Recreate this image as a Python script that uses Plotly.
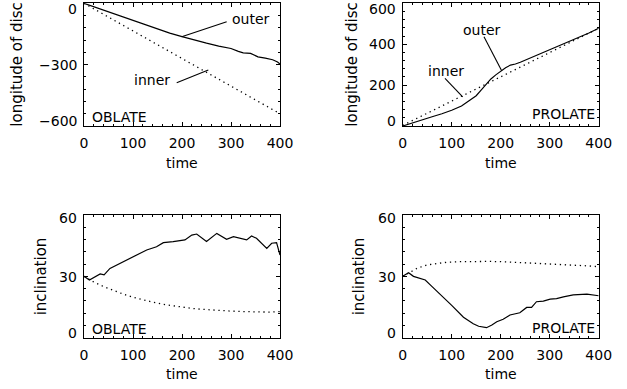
import plotly.graph_objects as go

# ---------------- data ----------------
x_ticks = [0, 100, 200, 300, 400]

# top-left : longitude of disc, OBLATE
t_obl_long_outer = [0, 25, 50, 75, 100, 125, 150, 175, 200, 225, 250, 275, 300, 315, 325, 340, 355, 370, 385, 395, 400]
v_obl_long_outer = [0, -21, -42, -63, -84, -104, -125, -146, -163, -180, -195, -209, -221, -235, -242, -245, -262, -268, -276, -287, -297]
t_obl_long_inner = [0, 50, 100, 150, 200, 250, 300, 350, 400]
v_obl_long_inner = [0, -67, -135, -202, -270, -337, -405, -472, -540]
yticks_obl_long = [0, -300, -600]

# top-right : longitude of disc, PROLATE
t_pro_long_outer = [0, 20, 40, 60, 80, 100, 120, 130, 140, 150, 160, 170, 180, 190, 200, 210, 220, 230, 240, 260, 280, 300, 320, 340, 360, 380, 400]
v_pro_long_outer = [0, 14, 30, 45, 60, 77, 98, 115, 130, 148, 175, 205, 230, 250, 268, 285, 298, 303, 312, 332, 354, 374, 393, 413, 432, 455, 478]
t_pro_long_inner = [0, 100, 200, 300, 400]
v_pro_long_inner = [3, 122, 241, 360, 478]
yticks_pro_long = [0, 200, 400, 600]

# bottom-left : inclination, OBLATE
t_obl_inc_outer = [0, 11, 33, 41, 53, 74, 87, 108, 128, 148, 162, 182, 206, 220, 230, 250, 271, 291, 305, 332, 342, 352, 373, 383, 393, 400]
v_obl_inc_outer = [30, 28.2, 31.2, 30.7, 33.9, 36.4, 38.3, 40.4, 42.9, 44.5, 46.5, 47, 47.8, 50.2, 50.7, 47, 51, 48.1, 49.4, 47.8, 49.7, 48.6, 43.7, 46.2, 46.5, 40.4]
t_obl_inc_inner = [0, 20, 40, 60, 80, 100, 120, 140, 160, 180, 200, 220, 240, 260, 280, 300, 320, 340, 360, 380, 400]
v_obl_inc_inner = [30, 27.2, 25, 23, 21.3, 19.8, 18.5, 17.4, 16.4, 15.6, 14.9, 14.3, 13.9, 13.5, 13.2, 13.0, 12.8, 12.6, 12.5, 12.5, 12.8]
yticks_inc = [0, 30, 60]

# bottom-right : inclination, PROLATE
t_pro_inc_outer = [0, 12, 22, 35, 46, 60, 80, 100, 124, 135, 144, 155, 171, 182, 192, 205, 219, 239, 253, 263, 273, 287, 301, 314, 328, 348, 376, 400]
v_pro_inc_outer = [30, 31.8, 30, 29.1, 28.2, 25, 20.5, 15.8, 10, 8.2, 6.8, 5.6, 4.9, 6.2, 7.8, 9.0, 11.1, 12.2, 14.8, 14.8, 17.6, 17.9, 18.9, 19.1, 20, 20.9, 21.3, 20.5]
t_pro_inc_inner = [0, 15, 30, 50, 70, 90, 120, 150, 180, 210, 240, 270, 300, 330, 360, 380, 400]
v_pro_inc_inner = [30, 32, 34, 35.6, 36.4, 36.9, 37.2, 37.3, 37.3, 37.1, 36.8, 36.5, 36.2, 35.9, 35.5, 35.1, 34.7]

# label / leader positions (data coords)
obl_outer_text = (341, -78)
obl_outer_leader = [(199.4, -163.3), (291.2, -90)]
obl_inner_text = (138, -377)
obl_inner_leader = [(189.2, -388), (253.7, -326)]
pro_outer_text = (161, 469)
pro_outer_leader = [(165.9, 437), (202, 270)]
pro_inner_text = (89, 271)
pro_inner_leader = [(86.3, 233), (122.4, 143)]

# ---------------- layout helpers ----------------
W, H = 627, 389
FONT = "DejaVu Sans"
FS = 14

panels = [
    dict(n="", box=(84, 3.3, 280, 126), yr=[-600, 0], yt=yticks_obl_long, ym=60,
         t_out=t_obl_long_outer, v_out=v_obl_long_outer, t_in=t_obl_long_inner, v_in=v_obl_long_inner,
         ytitle="longitude of disc", ytx=17, name="OBLATE", shifts=[-5.5, 0, 5.5]),
    dict(n="2", box=(402.7, 3.3, 598.7, 126), yr=[0, 600], yt=yticks_pro_long, ym=40,
         t_out=t_pro_long_outer, v_out=v_pro_long_outer, t_in=t_pro_long_inner, v_in=v_pro_long_inner,
         ytitle="longitude of disc", ytx=352, name="PROLATE", shifts=[5.5, 0, 0, -5.5]),
    dict(n="3", box=(84, 215, 280, 337.7), yr=[0, 60], yt=yticks_inc, ym=6,
         t_out=t_obl_inc_outer, v_out=v_obl_inc_outer, t_in=t_obl_inc_inner, v_in=v_obl_inc_inner,
         ytitle="inclination", ytx=41, name="OBLATE", shifts=[4.5, -1, -3]),
    dict(n="4", box=(402.7, 215, 598.7, 337.7), yr=[0, 60], yt=yticks_inc, ym=6,
         t_out=t_pro_inc_outer, v_out=v_pro_inc_outer, t_in=t_pro_inc_inner, v_in=v_pro_inc_inner,
         ytitle="inclination", ytx=359, name="PROLATE", shifts=[4.5, -1, -3]),
]

fig = go.Figure()
layout = dict(width=W, height=H, margin=dict(l=0, r=0, t=0, b=0),
              paper_bgcolor="white", plot_bgcolor="white", showlegend=False,
              font=dict(family=FONT, size=FS, color="black"))
annotations = []
shapes = []

axis_common = dict(showline=True, linecolor="black", linewidth=1, mirror="allticks",
                   ticks="inside", ticklen=4, tickwidth=1, tickcolor="black",
                   showgrid=False, zeroline=False, automargin=False, fixedrange=True)

for p in panels:
    n = p["n"]
    x0, y0, x1, y1 = p["box"]
    xa, ya = "x" + n, "y" + n
    pw = x1 - x0
    ph = y1 - y0
    layout["xaxis" + n] = dict(axis_common, domain=[x0 / W, x1 / W], anchor=ya, range=[0, 400],
                               tickvals=x_ticks, ticktext=[str(v) for v in x_ticks],
                               tickfont=dict(family=FONT, size=FS, color="black"),
                               ticklabelstandoff=4,
                               minor=dict(ticks="inside", ticklen=2, tickwidth=1, tickcolor="black", dtick=20, tick0=0))
    layout["yaxis" + n] = dict(axis_common, domain=[1 - y1 / H, 1 - y0 / H], anchor=xa, range=p["yr"],
                               tickvals=p["yt"], showticklabels=False,
                               minor=dict(ticks="inside", ticklen=2, tickwidth=1, tickcolor="black", dtick=p["ym"], tick0=0))
    fig.add_trace(go.Scatter(x=p["t_out"], y=p["v_out"], mode="lines", xaxis=xa, yaxis=ya,
                             line=dict(color="black", width=1.2)))
    fig.add_trace(go.Scatter(x=p["t_in"], y=p["v_in"], mode="lines", xaxis=xa, yaxis=ya,
                             line=dict(color="black", width=1.3, dash="1.3px,3.7px")))
    # y tick labels
    for v, s in zip(p["yt"], p["shifts"]):
        annotations.append(dict(x=0, y=v, xref=xa, yref=ya, text=str(v).replace("-", "\u2212"),
                                showarrow=False, xanchor="right", yanchor="middle",
                                xshift=-5, yshift=s, font=dict(family=FONT, size=FS, color="black")))
    # x title
    annotations.append(dict(x=0.5, y=-36.5 / ph, xref=xa + " domain", yref=ya + " domain", text="time",
                            showarrow=False, xanchor="center", yanchor="middle",
                            font=dict(family=FONT, size=FS, color="black")))
    # y title
    annotations.append(dict(x=(p["ytx"] - x0) / pw, y=0.5, xref=xa + " domain", yref=ya + " domain",
                            text=p["ytitle"], textangle=-90, showarrow=False,
                            xanchor="center", yanchor="middle",
                            font=dict(family=FONT, size=15, color="black")))
    # OBLATE / PROLATE
    if p["name"] == "OBLATE":
        cy = 117.5 if n == "" else 329
        annotations.append(dict(x=(90 - x0) / pw, y=(y1 - cy) / ph, xref=xa + " domain", yref=ya + " domain",
                                text="OBLATE", showarrow=False, xanchor="left", yanchor="middle",
                                font=dict(family=FONT, size=FS, color="black")))
    else:
        cy = 114.2 if n == "2" else 328.3
        annotations.append(dict(x=(596.7 - x0) / pw, y=(y1 - cy) / ph, xref=xa + " domain", yref=ya + " domain",
                                text="PROLATE", showarrow=False, xanchor="right", yanchor="middle",
                                font=dict(family=FONT, size=FS, color="black")))

# outer / inner labels and leader lines
for xa, ya, txt, pos, lead in [
    ("x", "y", "outer", obl_outer_text, obl_outer_leader),
    ("x", "y", "inner", obl_inner_text, obl_inner_leader),
    ("x2", "y2", "outer", pro_outer_text, pro_outer_leader),
    ("x2", "y2", "inner", pro_inner_text, pro_inner_leader),
]:
    annotations.append(dict(x=pos[0], y=pos[1], xref=xa, yref=ya, text=txt, showarrow=False,
                            xanchor="center", yanchor="middle",
                            font=dict(family=FONT, size=FS, color="black")))
    shapes.append(dict(type="line", xref=xa, yref=ya, x0=lead[0][0], y0=lead[0][1],
                       x1=lead[1][0], y1=lead[1][1], line=dict(color="black", width=1.1)))

layout["annotations"] = annotations
layout["shapes"] = shapes
fig.update_layout(**layout)
fig.write_html("out.html")
